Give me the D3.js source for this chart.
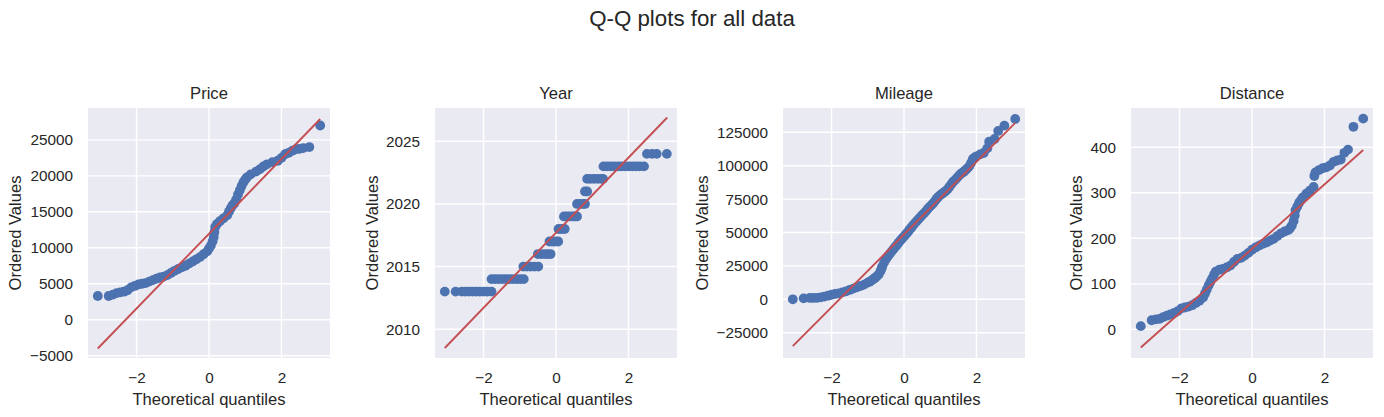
<!DOCTYPE html>
<html>
<head>
<meta charset="utf-8">
<script src="https://cdn.jsdelivr.net/npm/d3@7"></script>
<style>
  html, body { margin: 0; padding: 0; background: #fff; }
  text { font-family: "Liberation Sans", Arial, sans-serif; fill: #262626; }
</style>
</head>
<body>
<div class="canva"></div>
<script>
const panelNames = ['Price', 'Year', 'Mileage', 'Distance'];

const priceQ = [-3.07,-2.77,-2.65,-2.55,-2.45,-2.35,-2.25,-2.15,-2.05,-1.95,-1.85,-1.75,-1.65,-1.55,-1.45,-1.35,-1.25,-1.15,-1.05,-0.95,-0.85,-0.75,-0.65,-0.55,-0.45,-0.35,-0.25,-0.15,-0.05,0,0.05,0.1,0.13,0.15,0.17,0.22,0.3,0.4,0.5,0.55,0.6,0.65,0.7,0.75,0.8,0.85,0.9,0.95,1,1.05,1.15,1.3,1.4,1.5,1.6,1.75,1.9,2,2.1,2.2,2.3,2.4,2.5,2.6,2.77,3.07];
const priceV = [3300,3300,3500,3700,3800,3900,4100,4500,4700,4900,5000,5100,5300,5500,5700,5900,6000,6200,6500,6800,7050,7300,7500,7800,8100,8400,8700,9100,9500,9900,10300,10900,11500,12200,12900,13300,13700,14100,14500,15000,15500,15900,16200,16700,17400,18000,18600,19100,19500,19800,20200,20600,20900,21300,21600,21900,22100,22500,23000,23200,23500,23700,23750,23850,24000,27000];

// year values are whole numbers, so each one gets its own run of quantiles
const yearLevels = [2013, 2014, 2015, 2016, 2017, 2018, 2019, 2020, 2021, 2022, 2023, 2024];
const yearRuns = [
    [-3.07,-2.77,-2.6,-2.5,-2.4,-2.3,-2.2,-2.1,-2,-1.9,-1.78],
    [-1.78,-1.68,-1.58,-1.48,-1.38,-1.28,-1.18,-1.08,-0.98,-0.89],
    [-0.9,-0.8,-0.7,-0.6,-0.49],
    [-0.5,-0.4,-0.3,-0.22,-0.15],
    [-0.18,-0.1,-0.02,0.06],
    [0.07,0.15,0.24],
    [0.22,0.3,0.38,0.46,0.52,0.58],
    [0.58,0.66,0.74,0.8],
    [0.8,0.86],
    [0.86,0.95,1.05,1.15,1.25,1.3],
    [1.31,1.41,1.51,1.61,1.71,1.81,1.91,2.01,2.11,2.21,2.31,2.43],
    [2.51,2.65,2.78,3.06]
];

const mileageQ = [-3.07,-2.77,-2.6,-2.5,-2.4,-2.3,-2.2,-2.1,-2,-1.9,-1.8,-1.7,-1.6,-1.5,-1.4,-1.3,-1.2,-1.1,-1,-0.95,-0.9,-0.85,-0.8,-0.75,-0.7,-0.65,-0.62,-0.6,-0.55,-0.5,-0.45,-0.4,-0.35,-0.3,-0.25,-0.2,-0.15,-0.1,-0.05,0,0.05,0.1,0.15,0.2,0.25,0.3,0.35,0.4,0.45,0.5,0.55,0.6,0.65,0.7,0.75,0.8,0.85,0.9,0.95,1,1.05,1.1,1.15,1.2,1.25,1.3,1.35,1.4,1.45,1.5,1.55,1.6,1.65,1.7,1.75,1.8,1.85,1.9,1.95,2,2.1,2.2,2.3,2.35,2.5,2.6,2.77,3.07];
const mileageV = [0,700,1000,1000,1100,1500,2000,2700,3400,4000,4500,5200,6000,7000,8000,9000,10000,11000,12500,13200,14000,15000,16000,17200,18500,21000,23000,24500,27500,30000,32000,33800,35500,37200,39000,40500,42300,44000,45500,47000,48700,50200,52000,53600,55400,57000,58500,60000,61500,63000,64300,65800,67500,69000,70300,71700,73500,75200,76800,78000,79000,80000,81000,82300,84000,86000,87800,89000,90500,92000,93500,94500,95500,96800,98000,99500,102000,105000,106200,107000,108500,109500,113000,118000,120000,126000,130000,135000];

const distanceQ = [-3.07,-2.77,-2.65,-2.55,-2.45,-2.35,-2.25,-2.15,-2.05,-1.95,-1.85,-1.75,-1.65,-1.55,-1.45,-1.35,-1.3,-1.25,-1.2,-1.15,-1.1,-1.05,-1,-0.9,-0.8,-0.7,-0.6,-0.5,-0.4,-0.3,-0.2,-0.1,0,0.1,0.2,0.3,0.4,0.5,0.6,0.7,0.8,0.9,1,1.05,1.1,1.15,1.18,1.2,1.25,1.3,1.35,1.4,1.5,1.6,1.7,1.72,1.75,1.85,1.95,2.05,2.15,2.25,2.35,2.45,2.55,2.65,2.8,3.07];
const distanceV = [7,20,22,23,27,30,33,36,40,46,48,50,53,58,63,70,78,87,96,104,112,120,127,131,133,136,140,148,155,157,162,168,175,180,184,188,191,195,199,205,211,215,218,222,228,238,250,262,270,278,284,290,298,305,313,337,345,350,354,356,360,368,371,373,388,395,445,463];

// fitted red line, ends only
const lineQ = [-3.07, 3.07];
const priceLine = [-4000, 27900];
const yearLine = [2008.5, 2026.9];
const mileageLine = [-35000, 132000];
const distanceLine = [-40, 394];

const xTicks = [-2, 0, 2];
const priceTicks = [-5000, 0, 5000, 10000, 15000, 20000, 25000];
const yearTicks = [2010, 2015, 2020, 2025];
const mileageTicks = [-25000, 0, 25000, 50000, 75000, 100000, 125000];
const distanceTicks = [0, 100, 200, 300, 400];

const xDomain = [-3.34, 3.34];
const priceDomain = [-5320, 29430];
const yearDomain = [2007.7, 2027.66];
const mileageDomain = [-43940, 143190];
const distanceDomain = [-63, 486.4];

const yearQ = yearRuns.flat();
const yearV = yearRuns.flatMap((run, i) => run.map(() => yearLevels[i]));

const panels = [
    { q: priceQ, v: priceV, line: priceLine, ticks: priceTicks, domain: priceDomain, left: 88, labelX: 21 },
    { q: yearQ, v: yearV, line: yearLine, ticks: yearTicks, domain: yearDomain, left: 435, labelX: 378 },
    { q: mileageQ, v: mileageV, line: mileageLine, ticks: mileageTicks, domain: mileageDomain, left: 783, labelX: 708 },
    { q: distanceQ, v: distanceV, line: distanceLine, ticks: distanceTicks, domain: distanceDomain, left: 1131, labelX: 1082 }
];

const panelWidth = 242;
const plotTop = 108;
const plotBottom = 358;

const svg = d3.select('.canva').append('svg')
    .attr('width', 1384)
    .attr('height', 417);

svg.append('text')
    .attr('x', 692)
    .attr('y', 26)
    .attr('text-anchor', 'middle')
    .attr('font-size', 22.3)
    .text('Q-Q plots for all data');

panels.forEach((p, i) => {
    const x = d3.scaleLinear().domain(xDomain).range([p.left, p.left + panelWidth]);
    const y = d3.scaleLinear().domain(p.domain).range([plotBottom, plotTop]);

    const g = svg.append('g');

    g.append('rect')
        .attr('x', p.left)
        .attr('y', plotTop)
        .attr('width', panelWidth)
        .attr('height', plotBottom - plotTop)
        .attr('fill', '#eaeaf2');

    g.selectAll('.gx').data(xTicks).enter().append('line')
        .attr('x1', d => x(d)).attr('x2', d => x(d))
        .attr('y1', plotTop).attr('y2', plotBottom)
        .attr('stroke', '#fff').attr('stroke-width', 1.4);

    g.selectAll('.gy').data(p.ticks).enter().append('line')
        .attr('x1', p.left).attr('x2', p.left + panelWidth)
        .attr('y1', d => y(d)).attr('y2', d => y(d))
        .attr('stroke', '#fff').attr('stroke-width', 1.4);

    const xAxis = g.append('g')
        .attr('transform', `translate(0,${plotBottom})`)
        .call(d3.axisBottom(x).tickValues(xTicks).tickSize(0).tickPadding(14).tickFormat(d3.format('d')));
    const yAxis = g.append('g')
        .attr('transform', `translate(${p.left},0)`)
        .call(d3.axisLeft(y).tickValues(p.ticks).tickSize(0).tickPadding(15).tickFormat(d3.format('d')));
    [xAxis, yAxis].forEach(a => {
        a.select('.domain').remove();
        a.selectAll('text').attr('font-size', 15.3).attr('font-family', '"Liberation Sans", Arial, sans-serif').attr('fill', '#262626');
    });

    g.selectAll('circle').data(p.q).enter().append('circle')
        .attr('cx', d => x(d))
        .attr('cy', (d, j) => y(p.v[j]))
        .attr('r', 4.9)
        .attr('fill', '#4c72b0');

    g.append('path')
        .datum(lineQ)
        .attr('d', d3.line().x(d => x(d)).y((d, j) => y(p.line[j])))
        .attr('fill', 'none')
        .attr('stroke', '#c44e52')
        .attr('stroke-width', 1.9);

    g.append('text')
        .attr('x', p.left + panelWidth / 2)
        .attr('y', 98.5)
        .attr('text-anchor', 'middle')
        .attr('font-size', 16.6)
        .text(panelNames[i]);

    g.append('text')
        .attr('x', p.left + panelWidth / 2)
        .attr('y', 405)
        .attr('text-anchor', 'middle')
        .attr('font-size', 16.6)
        .text('Theoretical quantiles');

    g.append('text')
        .attr('transform', `translate(${p.labelX},${(plotTop + plotBottom) / 2}) rotate(-90)`)
        .attr('text-anchor', 'middle')
        .attr('font-size', 16.6)
        .text('Ordered Values');
});
</script>
</body>
</html>
